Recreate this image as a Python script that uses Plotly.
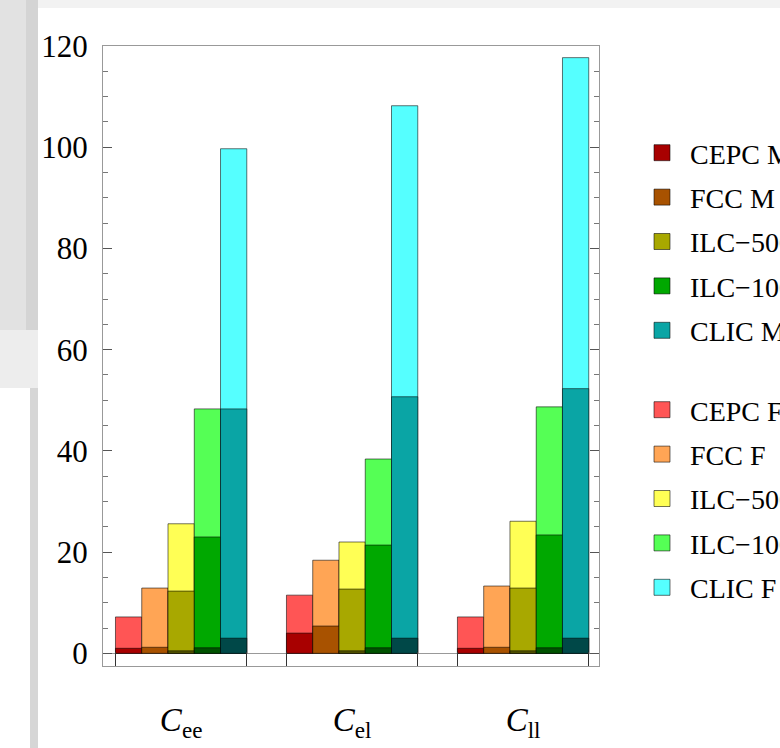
import plotly.graph_objects as go

# ---------------- data ----------------
categories = ["C_ee", "C_el", "C_ll"]
category_labels = ["<i>C</i><sub>ee</sub>", "<i>C</i><sub>el</sub>", "<i>C</i><sub>ll</sub>"]
colliders = ["CEPC", "FCC", "ILC−500", "ILC−1000", "CLIC"]

cepc_F = [7.2, 11.5, 7.2]
cepc_M = [1.0, 4.0, 1.0]
fcc_F = [12.9, 18.4, 13.3]
fcc_M = [1.2, 5.4, 1.2]
ilc500_F = [25.6, 22.0, 26.1]
ilc500_M = [12.3, 12.7, 12.9]
ilc500_base = [0.5, 0.5, 0.5]
ilc1000_F = [48.3, 38.4, 48.7]
ilc1000_M = [23.0, 21.4, 23.4]
ilc1000_base = [1.1, 1.1, 1.1]
clic_F = [99.7, 108.2, 117.7]
clic_M = [48.3, 50.7, 52.3]
clic_base = [3.0, 3.0, 3.0]

y_ticks = [0, 20, 40, 60, 80, 100, 120]

F_values = [cepc_F, fcc_F, ilc500_F, ilc1000_F, clic_F]
M_values = [cepc_M, fcc_M, ilc500_M, ilc1000_M, clic_M]
base_values = [None, None, ilc500_base, ilc1000_base, clic_base]

# ---------------- style ----------------
F_colors = ["#FF5555", "#FFA555", "#FFFF55", "#55FF55", "#55FFFF"]
M_colors = ["#A80000", "#A85200", "#A8A800", "#00A800", "#0AA5A5"]
base_colors = [None, None, "#555500", "#005200", "#004848"]
edge = "rgba(0,0,0,0.55)"
FONT = "Liberation Serif"

W_FIG, H_FIG = 780, 748
L, R, T, B = 103, 181, 46, 82
PW, PH = W_FIG - L - R, H_FIG - T - B


def px_x(p):
    return (p - L) / PW


def px_y(p):
    return 1 - (p - T) / PH


xpos = list(range(len(categories)))
bar_w = 0.1536
group_half = bar_w * len(colliders) / 2

fig = go.Figure()


def add_bars(values, colors, names):
    for i, (vals, col) in enumerate(zip(values, colors)):
        if vals is None:
            continue
        fig.add_trace(go.Bar(
            x=xpos, y=vals, width=bar_w, offset=-group_half + i * bar_w,
            marker=dict(color=col, line=dict(color=edge, width=1)),
            name=names[i] if names else "", showlegend=False,
            hoverinfo="y",
        ))


add_bars(F_values, F_colors, [c + " F" for c in colliders])
add_bars(M_values, M_colors, [c + " M" for c in colliders])
add_bars(base_values, base_colors, None)

# legend entries
for i, c in enumerate(colliders):
    fig.add_trace(go.Scatter(
        x=[None], y=[None], mode="markers", name=c + " M",
        marker=dict(symbol="square", size=16, color=M_colors[i], line=dict(color=edge, width=1)),
        legend="legend", legendgroup="M" + str(i),
    ))
for i, c in enumerate(colliders):
    fig.add_trace(go.Scatter(
        x=[None], y=[None], mode="markers", name=c + " F",
        marker=dict(symbol="square", size=16, color=F_colors[i], line=dict(color=edge, width=1)),
        legend="legend2", legendgroup="F" + str(i),
    ))

edges = []
for c in xpos:
    edges += [c - group_half, c + group_half]

legend_common = dict(
    xanchor="left", yanchor="top",
    font=dict(family=FONT, size=28, color="black"),
    tracegroupgap=5, traceorder="grouped", bgcolor="rgba(0,0,0,0)",
    itemwidth=46,
)

fig.update_layout(
    width=W_FIG, height=H_FIG,
    margin=dict(l=L, r=R, t=T, b=B, autoexpand=False),
    barmode="overlay",
    paper_bgcolor="white", plot_bgcolor="white",
    font=dict(family=FONT, color="black", size=28),
    xaxis=dict(
        range=[-0.457, 2.444], tickvals=xpos, ticktext=category_labels,
        ticks="", showline=True, mirror=True, linecolor="#999999", linewidth=1,
        showgrid=False, zeroline=False, ticklabelstandoff=24,
        tickfont=dict(family=FONT, size=33, color="black"),
        minor=dict(tickvals=edges, ticks="inside", ticklen=14, tickcolor="#333333", tickwidth=1),
    ),
    yaxis=dict(
        range=[-2.5, 120], tickvals=y_ticks, ticks="inside", ticklen=9, tickcolor="#555555",
        showline=True, mirror="ticks", linecolor="#999999", linewidth=1,
        showgrid=False, zeroline=True, zerolinecolor="#999999", zerolinewidth=1,
        ticklabelstandoff=8,
        tickfont=dict(family=FONT, size=31, color="black"),
        minor=dict(dtick=5, ticks="inside", ticklen=5, tickcolor="#777777"),
    ),
    legend=dict(x=px_x(634), y=px_y(128), **legend_common),
    legend2=dict(x=px_x(634), y=px_y(385), **legend_common),
    showlegend=True,
)

# screenshot surroundings (window edges)
bg = [
    (0, 0, 38, 388, "#d4d4d4"),
    (0, 0, 26, 388, "#e2e2e2"),
    (0, 330, 38, 388, "#ededed"),
    (30, 388, 38, 748, "#d6d6d6"),
    (38, 0, 780, 8, "#f2f2f2"),
]
for x0, y0, x1, y1, col in bg:
    fig.add_shape(type="rect", xref="paper", yref="paper",
                  x0=px_x(x0), x1=px_x(x1), y0=px_y(y1), y1=px_y(y0),
                  fillcolor=col, line=dict(width=0), layer="below")

fig.write_html("out.html")
